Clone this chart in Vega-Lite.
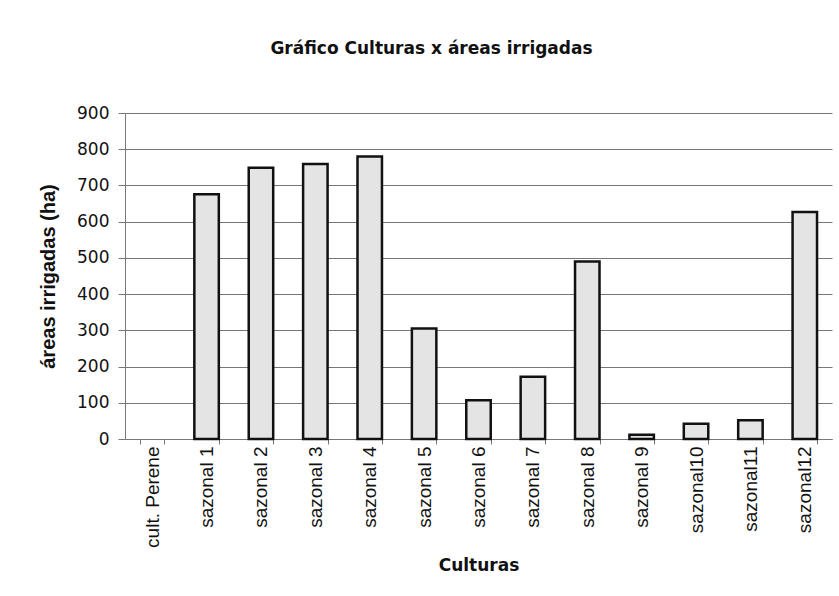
{
  "$schema": "https://vega.github.io/schema/vega-lite/v6.json",
  "width": 707,
  "height": 326,
  "autosize": {"type": "none"},
  "padding": {"left": 125, "top": 113, "right": 7, "bottom": 157},
  "background": "white",
  "title": {
    "text": "Gráfico Culturas x áreas irrigadas",
    "font": "DejaVu Sans",
    "fontSize": 17,
    "fontWeight": "bold",
    "color": "#111",
    "anchor": "middle",
    "frame": "group",
    "dx": -47,
    "offset": 46
  },
  "data": {
    "values": [
      {"cultura": "cult. Perene", "area": 0},
      {"cultura": "sazonal 1", "area": 676},
      {"cultura": "sazonal 2", "area": 749},
      {"cultura": "sazonal 3", "area": 759},
      {"cultura": "sazonal 4", "area": 780},
      {"cultura": "sazonal 5", "area": 305},
      {"cultura": "sazonal 6", "area": 107},
      {"cultura": "sazonal 7", "area": 172},
      {"cultura": "sazonal 8", "area": 490},
      {"cultura": "sazonal 9", "area": 12},
      {"cultura": "sazonal10", "area": 42},
      {"cultura": "sazonal11", "area": 52},
      {"cultura": "sazonal12", "area": 627}
    ]
  },
  "mark": {"type": "bar", "fill": "#e4e4e4", "stroke": "#111", "strokeWidth": 2.5},
  "encoding": {
    "x": {
      "field": "cultura",
      "type": "nominal",
      "sort": null,
      "title": "Culturas",
      "scale": {"paddingInner": 0.55, "paddingOuter": 0.275},
      "axis": {
        "labelAngle": 270,
        "labelAlign": "right",
        "labelBaseline": "middle",
        "labelFont": "Liberation Sans",
        "labelFontSize": 19,
        "labelColor": "#111",
        "labelPadding": 2,
        "tickBand": "extent",
        "tickSize": 5,
        "tickColor": "#777",
        "domainColor": "#777",
        "grid": false,
        "titleFont": "DejaVu Sans",
        "titleFontSize": 17,
        "titleFontWeight": "bold",
        "titleColor": "#111",
        "titlePadding": 10
      }
    },
    "y": {
      "field": "area",
      "type": "quantitative",
      "title": "áreas irrigadas (ha)",
      "scale": {"domain": [0, 900], "nice": false},
      "axis": {
        "values": [0, 100, 200, 300, 400, 500, 600, 700, 800, 900],
        "labelFont": "DejaVu Sans",
        "labelFontSize": 17,
        "labelColor": "#111",
        "labelPadding": 9,
        "tickSize": 7,
        "tickColor": "#777",
        "domainColor": "#777",
        "grid": true,
        "gridColor": "#777",
        "gridOpacity": 1,
        "titleFont": "Liberation Sans",
        "titleFontSize": 20,
        "titleFontWeight": "bold",
        "titleColor": "#111",
        "titlePadding": 18
      }
    },
    "strokeOpacity": {
      "condition": {"test": "datum.area > 0", "value": 1},
      "value": 0
    }
  },
  "config": {
    "view": {"stroke": null}
  }
}
